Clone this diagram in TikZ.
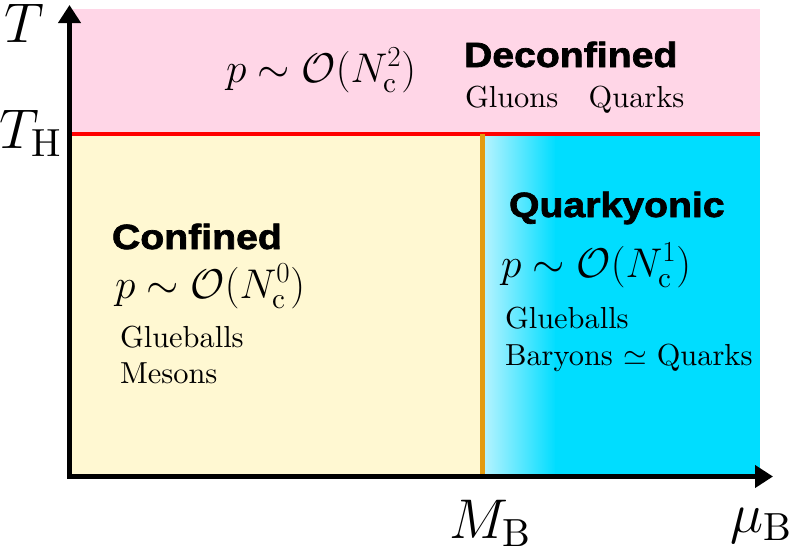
\RequirePackage{fix-cm}
\documentclass[tikz,border=0pt]{standalone}
\usepackage{fontspec}
\setmainfont{lmroman10-regular.otf}[BoldFont=lmroman10-bold.otf,ItalicFont=lmroman10-italic.otf]
\usetikzlibrary{arrows.meta}
\newfontfamily\hb{Liberation Sans Bold}[FakeStretch=1.12,FakeBold=2]
\definecolor{pinkbg}{HTML}{FFD6E7}
\definecolor{yellowbg}{HTML}{FFF8D2}
\definecolor{cyanbg}{HTML}{00DDFF}
\definecolor{cyanlight}{HTML}{B8F3FF}
\definecolor{orangeline}{HTML}{E39B12}
\tikzset{
  lbl/.style={anchor=base west, inner sep=0pt, outer sep=0pt},
  axlbl/.style={lbl, font=\fontsize{56}{60}\selectfont},
  mathlbl/.style={lbl, font=\fontsize{41.5}{46}\selectfont},
  txt/.style={lbl, font=\fontsize{30.4}{34}\selectfont},
  ttl/.style={lbl, font=\hb\fontsize{35}{40}\selectfont},
  axis/.style={line width=4.2pt, -{Triangle[length=18pt,width=22pt]}},
}
\begin{document}
\begin{tikzpicture}[x=1pt,y=-1pt]
\useasboundingbox (0,0) rectangle (797,547);
% regions
\fill[pinkbg] (70,9) rectangle (760,134);
\fill[yellowbg] (70,134) rectangle (483,477);
\shade[left color=cyanlight, right color=cyanbg] (483,134) rectangle (556,477);
\fill[cyanbg] (555,134) rectangle (760,477);
% boundaries
\coordinate (hl) at (70,134);
\coordinate (hr) at (760,134);
\coordinate (vt) at (482.5,134);
\coordinate (vb) at (482.5,477);
\draw[red, line width=4.5pt] (hl) -- (hr);
\draw[orangeline, line width=4.3pt] (vt) -- (vb);
% axes
\coordinate (o) at (69.5,476.5);
\coordinate (ob) at (69.5,478.6);
\coordinate (ol) at (67.4,476.5);
\coordinate (xtip) at (773,476.5);
\coordinate (ytip) at (69.5,5);
\draw[axis] (ob) -- (ytip);
\draw[axis] (ol) -- (xtip);
% axis labels
\node[axlbl] (T) at (5,42) {$T$};
\node[axlbl] (TH) at (-1,148) {$T_{\mathrm{H}}$};
\node[axlbl] (MB) at (449,538) {$M_{\mathrm{B}}$};
\node[axlbl] (muB) at (730,532) {$\mu_{\mathrm{B}}$};
% deconfined
\node[mathlbl] (p2) at (226,82) {$p\sim\mathcal{O}(N_{\mathrm{c}}^2)$};
\node[ttl] (dec) at (464,67) {Deconfined};
\node[txt] (gq) at (465,107) {Gluons\quad Quarks};
% confined
\node[ttl] (conf) at (112,249) {Confined};
\node[mathlbl] (p0) at (115,298) {$p\sim\mathcal{O}(N_{\mathrm{c}}^0)$};
\node[txt] (gb1) at (120,347) {Glueballs};
\node[txt] (mes) at (120,383) {Mesons};
% quarkyonic
\node[ttl] (qy) at (509,217) {Quarkyonic};
\node[mathlbl] (p1) at (501,277) {$p\sim\mathcal{O}(N_{\mathrm{c}}^1)$};
\node[txt] (gb2) at (505,328) {Glueballs};
\node[txt] (bq) at (505,365) {Baryons $\simeq$ Quarks};
\end{tikzpicture}
\end{document}
